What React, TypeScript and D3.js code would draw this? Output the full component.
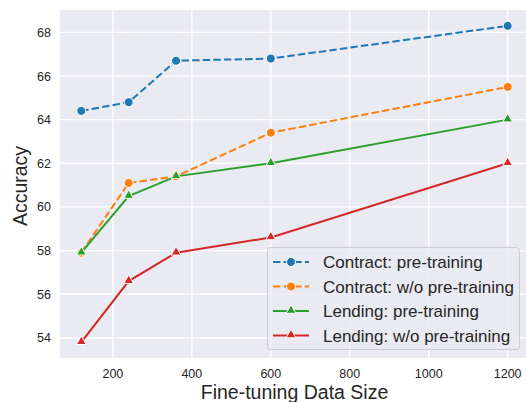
import React, { useRef, useEffect } from 'react';
import * as d3 from 'd3';

const sizes = [120, 240, 360, 600, 1200];
const contractPre = [64.4, 64.8, 66.7, 66.8, 68.3];
const contractNo = [57.9, 61.1, 61.4, 63.4, 65.5];
const lendingPre = [57.9, 60.5, 61.4, 62.0, 64.0];
const lendingNo = [53.8, 56.6, 57.9, 58.6, 62.0];
const seriesNames = [
  'Contract: pre-training',
  'Contract: w/o pre-training',
  'Lending: pre-training',
  'Lending: w/o pre-training',
];
const xTicks = [200, 400, 600, 800, 1000, 1200];
const yTicks = [54, 56, 58, 60, 62, 64, 66, 68];

const App = () => {
  const svgRef = useRef<SVGSVGElement>(null);

  useEffect(() => {
    const width = 526;
    const height = 402;
    const margin = { top: 10, right: -3, bottom: 44, left: 60 };
    const font = '"Liberation Sans", Arial, sans-serif';

    const svg = d3.select(svgRef.current);
    svg.selectAll('*').remove();
    svg.attr('width', width).attr('height', height);

    const series = [
      { name: seriesNames[0], values: contractPre, color: '#1f77b4', dashed: true, marker: 'circle' },
      { name: seriesNames[1], values: contractNo, color: '#ff7f0e', dashed: true, marker: 'circle' },
      { name: seriesNames[2], values: lendingPre, color: '#2ca02c', dashed: false, marker: 'triangle' },
      { name: seriesNames[3], values: lendingNo, color: '#d62728', dashed: false, marker: 'triangle' },
    ];

    const allY = series.flatMap(s => s.values);
    const xMin = d3.min(sizes)!, xMax = d3.max(sizes)!;
    const yMin = d3.min(allY)!, yMax = d3.max(allY)!;
    const xPad = (xMax - xMin) * 0.05;
    const yPad = (yMax - yMin) * 0.05;

    const x = d3.scaleLinear()
      .domain([xMin - xPad, xMax + xPad])
      .range([margin.left, width - margin.right]);
    const y = d3.scaleLinear()
      .domain([yMin - yPad, yMax + yPad])
      .range([height - margin.bottom, margin.top]);

    const [x0, x1] = x.range();
    const [y0, y1] = y.range();

    // background
    svg.append('rect')
      .attr('x', x0).attr('y', y1)
      .attr('width', x1 - x0).attr('height', y0 - y1)
      .attr('fill', '#eaeaf2');

    // grid
    svg.append('g').selectAll('line')
      .data(xTicks)
      .join('line')
      .attr('x1', d => x(d)).attr('x2', d => x(d))
      .attr('y1', y1).attr('y2', y0)
      .attr('stroke', 'white').attr('stroke-width', 1.3);
    svg.append('g').selectAll('line')
      .data(yTicks)
      .join('line')
      .attr('x1', x0).attr('x2', x1)
      .attr('y1', d => y(d)).attr('y2', d => y(d))
      .attr('stroke', 'white').attr('stroke-width', 1.3);

    // tick labels
    svg.append('g').selectAll('text')
      .data(xTicks)
      .join('text')
      .attr('x', d => x(d))
      .attr('y', y0 + 20)
      .attr('text-anchor', 'middle')
      .style('font-family', font)
      .style('font-size', '12.5px')
      .style('fill', '#262626')
      .text(d => d);
    svg.append('g').selectAll('text')
      .data(yTicks)
      .join('text')
      .attr('x', x0 - 9)
      .attr('y', d => y(d) + 4.5)
      .attr('text-anchor', 'end')
      .style('font-family', font)
      .style('font-size', '12.5px')
      .style('fill', '#262626')
      .text(d => d);

    // axis labels
    svg.append('text')
      .attr('x', (x0 + x1) / 2)
      .attr('y', y0 + 41)
      .attr('text-anchor', 'middle')
      .style('font-family', font)
      .style('font-size', '19.5px')
      .style('fill', '#262626')
      .text('Fine-tuning Data Size');
    svg.append('text')
      .attr('transform', `translate(27,${(y0 + y1) / 2 + 2}) rotate(-90)`)
      .attr('text-anchor', 'middle')
      .style('font-family', font)
      .style('font-size', '19.5px')
      .style('fill', '#262626')
      .text('Accuracy');

    const line = d3.line<number>()
      .x((_, i) => x(sizes[i]))
      .y(d => y(d));

    const triangle = d3.symbol().type(d3.symbolTriangle).size(42)();
    const drawMarker = (g: any, kind: string, color: string, cx: number, cy: number) => {
      if (kind === 'circle') {
        g.append('circle')
          .attr('cx', cx).attr('cy', cy).attr('r', 4.5)
          .attr('fill', color).attr('stroke', 'white').attr('stroke-width', 1);
      } else {
        g.append('path')
          .attr('d', triangle)
          .attr('transform', `translate(${cx},${cy - 0.5})`)
          .attr('fill', color).attr('stroke', 'white').attr('stroke-width', 1);
      }
    };

    series.forEach(s => {
      const g = svg.append('g');
      g.append('path')
        .datum(s.values)
        .attr('d', line)
        .attr('fill', 'none')
        .attr('stroke', s.color)
        .attr('stroke-width', 2)
        .attr('stroke-dasharray', s.dashed ? '7.4,3.2' : null);
      s.values.forEach((v, i) => drawMarker(g, s.marker, s.color, x(sizes[i]), y(v)));
    });

    // legend
    const lg = svg.append('g');
    lg.append('rect')
      .attr('x', 267.5).attr('y', 247.5)
      .attr('width', 252).attr('height', 102)
      .attr('rx', 3)
      .attr('fill', '#eaeaf2').attr('fill-opacity', 0.8)
      .attr('stroke', '#cccccc').attr('stroke-width', 1);
    series.forEach((s, i) => {
      const cy = 262 + i * 24.5;
      lg.append('line')
        .attr('x1', 273).attr('x2', 309)
        .attr('y1', cy).attr('y2', cy)
        .attr('stroke', s.color).attr('stroke-width', 2)
        .attr('stroke-dasharray', s.dashed ? '7.4,3.2' : null);
      drawMarker(lg, s.marker, s.color, 291, cy);
      lg.append('text')
        .attr('x', 323).attr('y', cy + 6)
        .style('font-family', font)
        .style('font-size', '17px')
        .style('fill', '#262626')
        .text(s.name);
    });
  }, []);

  return (
    <svg ref={svgRef} style={{ position: 'absolute', left: 0, top: 0, background: 'white' }}></svg>
  );
};

export default App;
